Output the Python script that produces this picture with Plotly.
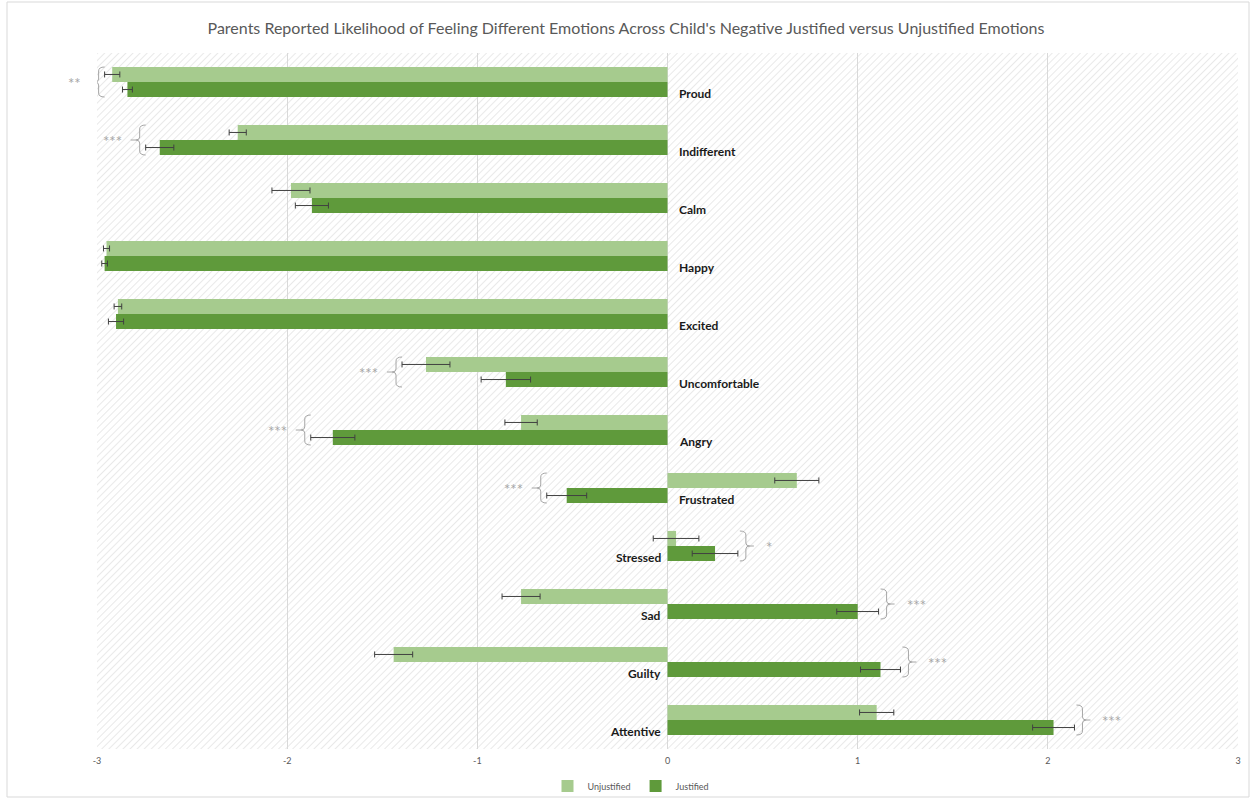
import base64
import plotly.graph_objects as go

# ---- data ----
emotions = ["Proud", "Indifferent", "Calm", "Happy", "Excited", "Uncomfortable",
            "Angry", "Frustrated", "Stressed", "Sad", "Guilty", "Attentive"]
unjustified = [-2.92, -2.26, -1.98, -2.95, -2.89, -1.27, -0.77, 0.68, 0.045, -0.77, -1.44, 1.10]
unjustified_err = [0.04, 0.045, 0.10, 0.016, 0.02, 0.126, 0.085, 0.116, 0.12, 0.10, 0.10, 0.09]
justified = [-2.84, -2.67, -1.87, -2.96, -2.90, -0.85, -1.76, -0.53, 0.25, 1.00, 1.12, 2.03]
justified_err = [0.026, 0.074, 0.087, 0.015, 0.04, 0.13, 0.116, 0.105, 0.12, 0.11, 0.105, 0.11]
significance = ["**", "***", "", "", "", "***", "***", "***", "*", "***", "***", "***"]
x_ticks = [-3, -2, -1, 0, 1, 2, 3]

title = ("Parents Reported Likelihood of Feeling Different Emotions Across Child's "
         "Negative Justified versus Unjustified Emotions")

LIGHT = "#A6CB8E"
DARK = "#5F9A3B"
FONT = "Lato, 'Open Sans', sans-serif"

W, H = 1252, 800
ML, MR, MT, MB = 97, 14, 53, 51
PW, PH = W - ML - MR, H - MT - MB

fig = go.Figure()
fig.add_trace(go.Bar(
    y=emotions, x=unjustified, orientation="h", name="Unjustified",
    marker=dict(color=LIGHT, line=dict(width=0)),
    error_x=dict(type="data", array=unjustified_err, color="#404040", thickness=1, width=3),
))
fig.add_trace(go.Bar(
    y=emotions, x=justified, orientation="h", name="Justified",
    marker=dict(color=DARK, line=dict(width=0)),
    error_x=dict(type="data", array=justified_err, color="#404040", thickness=1, width=3),
))

annotations = []
shapes = []

left_brace = ("M 0,15 Q -6,15 -6,11 L -6,3 Q -6,0 -10,0 Q -6,0 -6,-3 "
              "L -6,-11 Q -6,-15 0,-15 M -10,0 L -15,0")
right_brace = ("M 2,15 Q 8,15 8,11 L 8,3 Q 8,0 12,0 Q 8,0 8,-3 "
               "L 8,-11 Q 8,-15 2,-15 M 12,0 L 16,0")

for i, name in enumerate(emotions):
    # category label next to zero line
    if justified[i] < 0:
        annotations.append(dict(x=0, y=i + 0.2, xref="x", yref="y", text="<b>%s</b>" % name,
                                showarrow=False, xanchor="left", xshift=9,
                                font=dict(family=FONT, size=12, color="#1a1a1a")))
    else:
        annotations.append(dict(x=0, y=i + 0.2, xref="x", yref="y", text="<b>%s</b>" % name,
                                showarrow=False, xanchor="right", xshift=-5,
                                font=dict(family=FONT, size=12, color="#1a1a1a")))
    sig = significance[i]
    if not sig:
        continue
    lo = min(unjustified[i] - unjustified_err[i], justified[i] - justified_err[i])
    hi = max(unjustified[i] + unjustified_err[i], justified[i] + justified_err[i])
    if justified[i] > 0:
        anchor, path, xa, xs = hi, right_brace, "left", 26
    else:
        anchor, path, xa, xs = lo, left_brace, "right", -22
    shapes.append(dict(type="path", xref="x", yref="y", xsizemode="pixel", ysizemode="pixel",
                       xanchor=anchor, yanchor=i, path=path,
                       line=dict(color="#a6a6a6", width=1)))
    annotations.append(dict(x=anchor, y=i, xref="x", yref="y", text=sig, showarrow=False,
                            xanchor=xa, xshift=xs, yshift=-1,
                            font=dict(family=FONT, size=15, color="#a6a6a6")))

# outer chart border
shapes.append(dict(type="rect", xref="paper", yref="paper",
                   x0=(7 - ML) / PW, x1=(1249 - ML) / PW,
                   y0=(H - MB - 797) / PH, y1=(H - MB - 2) / PH,
                   line=dict(color="#d9d9d9", width=1), fillcolor="rgba(0,0,0,0)", layer="below"))

# hatch background
svg = ('<svg xmlns="http://www.w3.org/2000/svg" width="%d" height="%d">'
       '<defs><pattern id="h" width="5" height="5" patternUnits="userSpaceOnUse" '
       'patternTransform="rotate(45)"><line x1="0" y1="0" x2="0" y2="5" '
       'stroke="#d6d6d6" stroke-width="1.1"/></pattern></defs>'
       '<rect width="100%%" height="100%%" fill="url(#h)"/></svg>') % (PW, PH)
src = "data:image/svg+xml;base64," + base64.b64encode(svg.encode()).decode()

fig.update_layout(
    width=W, height=H,
    margin=dict(l=ML, r=MR, t=MT, b=MB, autoexpand=False),
    paper_bgcolor="white", plot_bgcolor="rgba(0,0,0,0)",
    barmode="group", bargap=0.48, bargroupgap=0,
    title=dict(text=title, x=0.5, xref="container", xanchor="center", y=1 - 28 / H, yanchor="middle",
               font=dict(family=FONT, size=16, color="#595959")),
    xaxis=dict(range=[-3, 3], tickvals=x_ticks, ticktext=[str(v) for v in x_ticks],
               showgrid=True, gridcolor="#d9d9d9", gridwidth=1,
               zeroline=True, zerolinecolor="#d9d9d9", zerolinewidth=1,
               showline=False, ticks="", ticklen=0, automargin=False, ticklabelstandoff=5,
               tickfont=dict(family=FONT, size=9, color="#595959")),
    yaxis=dict(autorange="reversed", showticklabels=False, showgrid=False, zeroline=False,
               showline=False, ticks="", automargin=False),
    legend=dict(orientation="h", x=(631 - ML) / PW, xanchor="center",
                y=-(786 - (H - MB)) / PH, yanchor="middle",
                font=dict(family=FONT, size=9, color="#595959"), traceorder="normal",
                itemwidth=30, bgcolor="rgba(0,0,0,0)"),
    showlegend=True,
    annotations=annotations,
    shapes=shapes,
    images=[dict(source=src, xref="paper", yref="paper", x=0, y=1, sizex=1, sizey=1,
                 xanchor="left", yanchor="top", sizing="stretch", layer="below")],
)

fig.write_html("out.html")
